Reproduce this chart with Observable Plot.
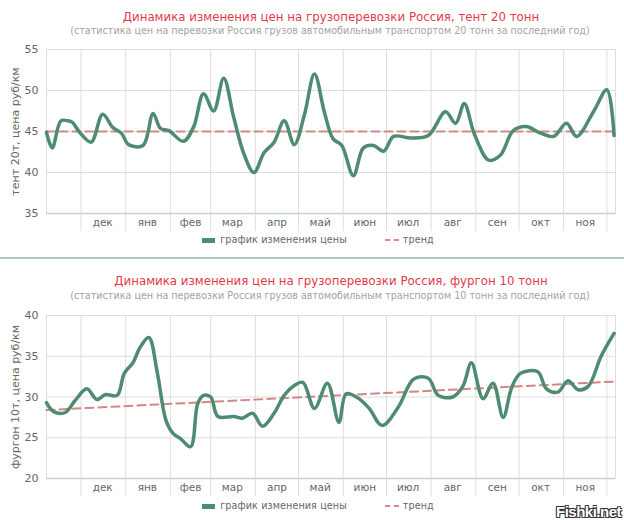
<!DOCTYPE html>
<html><head><meta charset="utf-8">
<script src="https://cdn.jsdelivr.net/npm/d3@7"></script>
<script src="https://cdn.jsdelivr.net/npm/@observablehq/plot@0.6"></script>
<style>
body{margin:0;background:#fff;font-family:"DejaVu Sans",sans-serif;}
#page{position:relative;width:624px;height:520px;overflow:hidden;background:#fff}
.title{position:absolute;left:0;width:662px;text-align:center;color:#e23a4c;font-size:11.8px;line-height:14px;white-space:nowrap}
.sub{position:absolute;left:0;width:660px;text-align:center;color:#a3a3a3;font-size:9.6px;line-height:12px;white-space:nowrap}
.chart{position:absolute;left:0}
.legend{position:absolute;left:0;width:636px;display:flex;justify-content:center;align-items:center;font-size:9.6px;color:#666;line-height:14px;white-space:nowrap;letter-spacing:0.1px}
.sw{display:inline-block;width:13px;height:5px;background:#4d8b73;margin-right:5px}
.swd{display:inline-block;width:14px;height:0;border-top:2px dashed #d98c8c;margin-right:4px;margin-left:38px}
.sep{position:absolute;left:0;top:257px;width:624px;height:2px;background:#b5c3bf}
.wm{position:absolute;left:556px;top:503px;font-family:"Liberation Sans",sans-serif;font-weight:bold;font-size:15px;color:#fff;text-shadow:-1px -1px 0 #333,1px -1px 0 #333,-1px 1px 0 #333,1px 1px 0 #333;letter-spacing:-0.5px}
</style></head><body><div id="page"></div>
<script>
// ---- data ----
const monthNames = ["дек","янв","фев","мар","апр","май","июн","июл","авг","сен","окт","ноя"];
const monthStarts = ["2012-12-01","2013-01-01","2013-02-01","2013-03-01","2013-04-01","2013-05-01","2013-06-01","2013-07-01","2013-08-01","2013-09-01","2013-10-01","2013-11-01","2013-12-01"];
const monthMids = ["2012-12-16","2013-01-16","2013-02-15","2013-03-16","2013-04-16","2013-05-16","2013-06-16","2013-07-16","2013-08-16","2013-09-16","2013-10-16","2013-11-16"];
const xDomain = ["2012-11-07","2013-12-07"];

const tentDates = ["2012-11-07","2012-11-11","2012-11-17","2012-11-22","2012-11-25","2012-11-30","2012-12-08","2012-12-16","2012-12-23","2012-12-29","2013-01-03","2013-01-13","2013-01-20","2013-01-25","2013-01-31","2013-02-10","2013-02-17","2013-02-24","2013-03-03","2013-03-10","2013-03-17","2013-03-24","2013-03-31","2013-04-07","2013-04-14","2013-04-21","2013-04-28","2013-05-05","2013-05-12","2013-05-19","2013-05-25","2013-05-31","2013-06-08","2013-06-15","2013-06-22","2013-06-29","2013-07-06","2013-07-18","2013-07-30","2013-08-11","2013-08-18","2013-08-24","2013-08-31","2013-09-10","2013-09-18","2013-09-27","2013-10-06","2013-10-16","2013-10-25","2013-11-03","2013-11-10","2013-11-22","2013-12-01","2013-12-06"];
const tentValues = [44.9,43.0,46.3,46.3,46.1,44.9,43.7,47.1,45.5,44.8,43.4,43.3,47.2,45.4,45.1,43.8,45.5,49.6,47.5,51.5,46.7,42.3,40.0,42.4,43.7,46.3,43.4,47.0,52.0,47.3,44.1,43.3,39.6,43.0,43.3,42.6,44.4,44.2,44.5,47.4,46.0,48.4,44.7,41.5,42.1,45.1,45.6,44.8,44.4,46.0,44.4,47.5,50.1,44.5];
const tentTrendDates = ["2012-11-07","2013-12-07"];
const tentTrendValues = [45.0,45.0];
const tentTicks = [35,40,45,50,55];

const vanDates = ["2012-11-07","2012-11-12","2012-11-20","2012-11-27","2012-12-05","2012-12-12","2012-12-18","2012-12-26","2012-12-31","2013-01-06","2013-01-11","2013-01-17","2013-01-23","2013-01-29","2013-02-03","2013-02-08","2013-02-15","2013-02-20","2013-02-24","2013-03-01","2013-03-06","2013-03-17","2013-03-23","2013-03-30","2013-04-06","2013-04-14","2013-04-21","2013-04-28","2013-05-04","2013-05-12","2013-05-21","2013-05-29","2013-06-03","2013-06-11","2013-06-19","2013-06-28","2013-07-09","2013-07-20","2013-07-30","2013-08-06","2013-08-16","2013-08-23","2013-08-29","2013-09-06","2013-09-13","2013-09-20","2013-09-26","2013-10-02","2013-10-14","2013-10-20","2013-10-28","2013-11-04","2013-11-11","2013-11-18","2013-11-27","2013-12-06"];
const vanValues = [29.3,28.2,28.1,29.6,31.0,29.7,30.3,30.2,32.9,34.2,36.1,37.3,32.9,27.1,25.5,24.9,23.9,29.2,30.2,30.0,27.6,27.6,27.4,28.0,26.4,28.0,30.2,31.4,31.8,28.6,31.7,26.9,30.4,29.9,28.6,26.5,28.7,32.2,32.3,30.2,30.0,31.3,34.2,29.8,31.7,27.5,31.2,32.9,33.1,31.0,30.6,32.0,30.9,31.3,35.0,37.8];
const vanTrendDates = ["2012-11-07","2013-12-07"];
const vanTrendValues = [28.4,31.9];
const vanTicks = [20,25,30,35,40];

const titles = ["Динамика изменения цен на грузоперевозки Россия, тент 20 тонн","Динамика изменения цен на грузоперевозки Россия, фургон 10 тонн"];
const subtitles = ["(статистика цен на перевозки Россия грузов автомобильным транспортом 20 тонн за последний год)","(статистика цен на перевозки Россия грузов автомобильным транспортом 10 тонн за последний год)"];
const yLabels = ["тент 20т, цена руб/км","фургон 10т, цена руб/км"];
const legendLabels = ["график изменения цены","тренд"];

// ---- build ----
const parse = s => new Date(s + "T00:00:00Z");
const page = document.getElementById("page");

function makeChart(dates, values, tDates, tValues, ticks, yLabel, plotHeight) {
  const data = dates.map((d, i) => ({date: parse(d), value: values[i]}));
  const trend = tDates.map((d, i) => ({date: parse(d), value: tValues[i]}));
  const starts = monthStarts.map(parse);
  const mids = monthMids.map(parse);
  const mt = 11, mb = 25;
  return Plot.plot({
    width: 624,
    height: plotHeight + mt + mb,
    marginTop: mt, marginBottom: mb, marginLeft: 46, marginRight: 9,
    style: {fontFamily: "DejaVu Sans, sans-serif", background: "transparent", overflow: "visible"},
    x: {type: "utc", domain: xDomain.map(parse)},
    y: {domain: [ticks[0], ticks[ticks.length - 1]]},
    marks: [
      Plot.gridY({ticks: ticks.slice(1, -1), stroke: "#dddddd", strokeOpacity: 1}),
      Plot.gridX({ticks: starts, stroke: "#dddddd", strokeOpacity: 1}),
      Plot.frame({stroke: "#dddddd"}),
      Plot.ruleY([ticks[0]], {stroke: "#c5cfda", strokeWidth: 1.5}),
      Plot.axisX({ticks: starts, tickSize: 18, tickFormat: () => "", stroke: "#dddddd", strokeOpacity: 1, label: null}),
      Plot.axisX({ticks: mids, tickSize: 0, tickPadding: 5, tickFormat: (d, i) => monthNames[i], fill: "#666", fontSize: 10.5, label: null}),
      Plot.axisY({ticks, tickSize: 0, tickPadding: 8, fill: "#666", fontSize: 11, label: yLabel, labelAnchor: "center", labelArrow: "none", labelOffset: 35}),
      Plot.line(trend, {x: "date", y: "value", stroke: "#d48585", strokeWidth: 2, strokeDasharray: "8,5"}),
      Plot.line(data, {x: "date", y: "value", curve: "catmull-rom", stroke: "#4d8b73", strokeWidth: 3.5})
    ]
  });
}

function addDiv(cls, top, html) {
  const d = document.createElement("div");
  d.className = cls; d.style.top = top + "px"; d.innerHTML = html;
  page.appendChild(d); return d;
}

function legendHtml() {
  return `<span class="sw"></span><span>${legendLabels[0]}</span><span class="swd"></span><span>${legendLabels[1]}</span>`;
}

// chart 1
addDiv("title", 10, titles[0]);
addDiv("sub", 25, subtitles[0]);
const c1 = makeChart(tentDates, tentValues, tentTrendDates, tentTrendValues, tentTicks, yLabels[0], 164);
const w1 = addDiv("chart", 38, ""); w1.appendChild(c1);
addDiv("legend", 233, legendHtml());

addDiv("sep", 257, "");

// chart 2
addDiv("title", 274, titles[1]);
addDiv("sub", 290, subtitles[1]);
const c2 = makeChart(vanDates, vanValues, vanTrendDates, vanTrendValues, vanTicks, yLabels[1], 163);
const w2 = addDiv("chart", 304, ""); w2.appendChild(c2);
addDiv("legend", 499, legendHtml());

addDiv("wm", 503, "Fishki.net");
</script></body></html>
